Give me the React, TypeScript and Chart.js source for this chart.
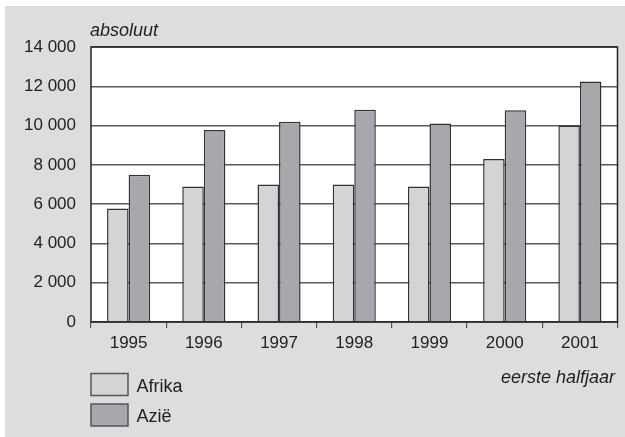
import React, { useEffect, useRef } from "react";
import { Chart, registerables } from "chart.js";

Chart.register(...registerables);

const years = ["1995", "1996", "1997", "1998", "1999", "2000", "2001"];
const afrika = [5780, 6900, 7000, 7000, 6900, 8300, 10000];
const azie = [7500, 9780, 10200, 10800, 10100, 10780, 12250];
const seriesNames = ["Afrika", "Azië"];
const yTitle = "absoluut";
const xTitle = "eerste halfjaar";

const FONT = "'Liberation Sans', Arial, sans-serif";
const C_AFR = "#d3d4d6";
const C_AZI = "#a7a8ab";
const BG = "#dcdddf";

const fmt = (v: number) => {
  const s = String(Math.round(v));
  return s.replace(/\B(?=(\d{3})+(?!\d))/g, " ");
};

const decor = {
  id: "decor",
  beforeDraw(chart: any) {
    const ctx = chart.ctx;
    const a = chart.chartArea;
    ctx.save();
    ctx.fillStyle = "#ffffff";
    ctx.fillRect(0, 0, chart.width, chart.height);
    ctx.fillStyle = BG;
    ctx.fillRect(5, 6, chart.width - 5, chart.height - 6);
    ctx.fillStyle = "#ffffff";
    ctx.fillRect(a.left, a.top, a.right - a.left, a.bottom - a.top);
    ctx.restore();
  },
  afterDraw(chart: any) {
    const ctx = chart.ctx;
    const a = chart.chartArea;
    ctx.save();
    ctx.strokeStyle = "#222";
    ctx.lineWidth = 1.5;
    ctx.strokeRect(a.left, a.top, a.right - a.left, a.bottom - a.top);
    ctx.fillStyle = "#222";
    ctx.font = `italic 18px ${FONT}`;
    ctx.textAlign = "left";
    ctx.textBaseline = "alphabetic";
    ctx.fillText(yTitle, 90, 36);
    ctx.textAlign = "right";
    ctx.fillText(xTitle, 615, 383);
    // legend
    const colors = [C_AFR, C_AZI];
    const tops = [373.5, 404];
    ctx.font = `18px ${FONT}`;
    ctx.textAlign = "left";
    for (let i = 0; i < seriesNames.length; i++) {
      ctx.fillStyle = colors[i];
      ctx.fillRect(91, tops[i], 37, 22);
      ctx.strokeStyle = "#555";
      ctx.lineWidth = 1.5;
      ctx.strokeRect(91, tops[i], 37, 22);
      ctx.fillStyle = "#222";
      ctx.fillText(seriesNames[i], 136.5, tops[i] + 18);
    }
    ctx.restore();
  },
};

export default function App() {
  const ref = useRef<HTMLCanvasElement>(null);
  useEffect(() => {
    const chart = new Chart(ref.current!, {
      type: "bar",
      data: {
        labels: years,
        datasets: [
          {
            label: seriesNames[0],
            data: afrika,
            backgroundColor: C_AFR,
            borderColor: "#333",
            borderWidth: 1.5,
            categoryPercentage: 0.573,
            barPercentage: 1,
          },
          {
            label: seriesNames[1],
            data: azie,
            backgroundColor: C_AZI,
            borderColor: "#333",
            borderWidth: 1.5,
            categoryPercentage: 0.573,
            barPercentage: 1,
          },
        ],
      },
      options: {
        animation: false,
        responsive: false,
        devicePixelRatio: 1,
        layout: { padding: { left: 0, right: 7.5, top: 47, bottom: 0 } },
        plugins: { legend: { display: false }, tooltip: { enabled: false } },
        scales: {
          x: {
            grid: {
              offset: true,
              drawOnChartArea: false,
              drawTicks: true,
              tickLength: 6,
              color: "#555",
              lineWidth: 1.2,
            },
            border: { display: false },
            ticks: {
              color: "#222",
              font: { family: FONT, size: 17 },
              padding: 5,
              maxRotation: 0,
            },
            afterFit(scale: any) {
              scale.height = 115;
            },
          },
          y: {
            min: 0,
            max: 14000,
            grid: {
              drawTicks: false,
              color: "#5a5a5a",
              lineWidth: 1.5,
            },
            border: { display: false },
            ticks: {
              stepSize: 2000,
              color: "#222",
              font: { family: FONT, size: 17 },
              padding: 15,
              callback: (v: any) => fmt(Number(v)),
            },
            afterFit(scale: any) {
              scale.width = 91;
            },
          },
        },
      },
      plugins: [decor],
    });
    return () => chart.destroy();
  }, []);
  return (
    <div style={{ position: "fixed", left: 0, top: 0, width: 625, height: 437 }}>
      <canvas ref={ref} width={625} height={437} style={{ width: 625, height: 437, display: "block" }} />
    </div>
  );
}
